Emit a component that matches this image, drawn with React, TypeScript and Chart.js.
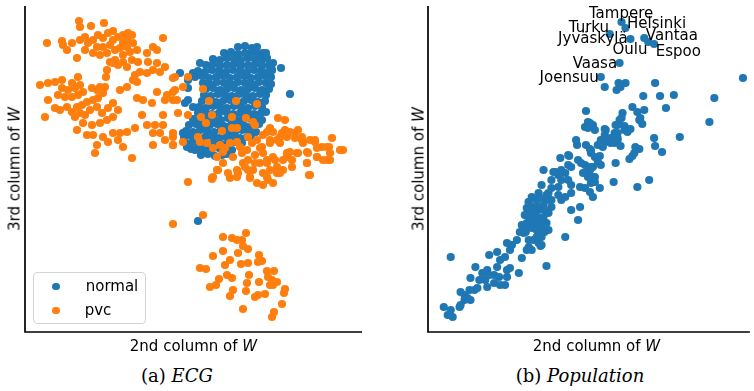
import React, { useEffect, useRef } from "react";
import { Chart, registerables } from "chart.js";

Chart.register(...registerables);

// ---------- (a) ECG : 2nd vs 3rd column of W ----------
const ecgNormal: [number, number][] = [
  [176,177],[183,178],[190,176],[197,177],[202,178],
  [166,183],[173,184],[180,182],[187,183],[194,184],[201,183],[207,182],
  [161,189],[168,190],[175,188],[182,189],[189,190],[196,188],[203,189],[210,190],[217,189],
  [159,195],[166,196],[173,194],[180,195],[187,196],[194,194],[201,195],[208,196],[215,194],[222,195],[226,196],
  [161,201],[168,200],[175,202],[182,201],[189,200],[196,202],[203,201],[210,200],[217,202],[224,201],[231,200],
  [164,207],[171,208],[178,206],[185,207],[192,208],[199,206],[206,207],[213,208],[220,206],[227,207],[234,208],
  [168,213],[175,212],[182,214],[189,213],[196,212],[203,214],[210,213],[217,212],[224,214],[231,213],[237,212],
  [173,219],[180,220],[187,218],[194,219],[201,220],[208,218],[215,219],[222,220],[229,218],[236,219],[241,220],
  [174,225],[181,224],[188,226],[195,225],[202,224],[209,226],[216,225],[223,224],[230,226],[237,225],
  [177,231],[184,232],[191,230],[198,231],[205,232],[212,230],[219,231],[226,232],[233,230],[240,231],
  [179,237],[186,236],[193,238],[200,237],[207,236],[214,238],[221,237],[228,236],[235,238],[241,237],
  [181,243],[188,244],[195,242],[202,243],[209,244],[216,242],[223,243],[230,244],[237,242],[244,243],
  [178,249],[185,248],[192,250],[199,249],[206,248],[213,250],[220,249],[227,248],[234,250],[241,249],[246,248],
  [170,255],[177,256],[184,254],[191,255],[198,256],[205,254],[212,255],[219,256],[226,254],[233,255],[240,256],[246,255],
  [173,261],[180,260],[187,262],[194,261],[201,260],[208,262],[215,261],[222,260],[229,262],[236,261],[243,260],[247,262],
  [181,267],[188,268],[195,266],[202,267],[209,268],[216,266],[223,267],[230,268],[237,266],[244,267],
  [188,273],[195,272],[202,274],[209,273],[216,272],[223,274],[230,273],[237,272],[242,274],
  [199,279],[206,280],[213,278],[220,279],[227,280],[234,278],[238,279],
  [213,285],[220,286],[227,284],[232,285],
  [175,269],[241,279],[248,269],[256,264],[247,262],[155,259],[163,244],[265,238],[160,229],
  [173,111],[163,252],[168,225],[158,199],[172,199],[162,185],[170,182],[168,259],[163,232],
];

const ecgPvc: [number, number][] = [
  [54,311],[55,305],[66,306],[79,309],[22,289],[37,291],[38,287],[42,282],[52,274],[55,292],[60,295],[63,289],
  [68,292],[73,297],[78,294],[83,299],[88,301],[93,295],[98,297],[103,299],[107,297],[102,292],[98,289],[88,292],
  [85,287],[78,285],[72,285],[68,279],[75,277],[82,279],[90,282],[95,284],[102,285],[108,289],[112,282],[105,280],
  [98,277],[90,272],[88,269],[93,267],[98,270],[102,265],[107,272],[113,270],[122,279],[128,285],[132,282],[138,294],
  [123,270],[132,269],[140,265],[135,260],[128,262],[122,259],[115,260],[110,257],[108,252],[112,250],[82,262],[81,255],
  [85,270],[47,289],[60,282],
  [15,247],[23,249],[30,250],[37,252],[47,249],[53,255],[55,247],[50,244],[43,242],[37,244],[33,237],[40,235],
  [47,235],[53,237],[58,240],[67,244],[72,242],[75,245],[80,245],[78,239],[73,234],[68,232],[62,230],[57,227],
  [52,225],[23,232],[20,215],[30,224],[35,222],[42,225],[47,220],[50,215],[55,219],[60,217],[65,222],[72,225],
  [77,219],[83,224],[88,229],[93,222],[88,215],[82,212],[75,209],[67,207],[58,209],[52,202],[62,197],[68,197],
  [72,187],[70,179],[78,195],[83,190],[88,199],[95,199],[93,192],[98,185],[107,174],[102,200],[110,204],[117,217],
  [122,207],[128,199],[130,207],[138,207],[138,217],[135,199],[140,192],[148,195],[148,187],[128,187],[102,245],[95,242],
  [112,234],[118,232],[127,229],[132,240],[140,232],[142,237],[148,232],[150,242],[148,254],[153,219],
  [150,255],[163,255],[158,245],[148,240],[152,232],[178,243],[184,231],[211,231],[232,228],[163,217],[176,215],[187,217],
  [207,215],[221,214],[181,209],[228,210],[207,204],[212,204],[197,201],[230,207],[253,214],[260,212],[245,204],[248,200],
  [148,199],[158,190],[173,195],[175,190],
  [182,189],[188,184],[195,187],[200,184],[205,189],[212,190],[215,185],[223,195],[227,189],[232,192],[238,197],[242,200],
  [237,185],[245,189],[252,192],[257,199],[262,195],[265,200],[255,189],
  [273,202],[277,195],[270,194],[278,189],[285,192],[290,190],[292,184],[297,185],[302,185],[307,194],[304,185],[318,182],
  [315,182],[305,172],[298,172],[292,175],[283,179],[282,169],[285,157],[272,179],[265,180],[262,175],[258,172],
  [192,175],[198,169],[208,175],[217,179],[223,172],[230,177],[235,169],[242,172],[248,175],[252,165],[245,162],[238,159],
  [228,162],[220,165],[212,162],[203,159],[193,162],[188,155],[212,155],[225,155],[242,155],[255,159],[267,165],
  [148,187],[163,150],[187,154],[192,162],[205,154],[213,159],[218,169],[223,162],[225,154],[232,149],[238,147],[243,152],
  [248,149],[252,159],[258,162],[262,179],[267,172],[273,179],[282,180],[282,169],[292,175],[302,172],[305,179],[290,192],
  [198,180],[222,182],[235,184],[245,192],[255,195],[260,202],[270,199],[277,192],[230,169],[242,169],[250,172],[238,179],
  [187,153],[284,157],[148,108],[178,117],
  [198,95],[207,94],[212,92],[217,92],[221,99],[218,86],[223,83],[198,81],[188,76],[213,79],[205,72],[200,67],
  [216,68],[223,69],[234,77],[233,70],[237,71],[175,64],[181,63],[202,57],[207,54],[224,57],[242,61],[249,61],
  [243,55],[247,52],[252,50],[248,47],[245,47],[234,50],[222,49],[194,53],[191,47],[185,45],[208,42],[205,36],
  [221,41],[260,43],[259,39],[230,35],[233,37],[240,38],[218,23],[257,28],[249,20],[247,15],
];

// ---------- (b) Population ----------
const popPoints: [number, number][] = [
  [196,310],[200,304],[184,298],[205,293],[219,294],[223,290],[229,288],[194,269],[175,255],
  [319,254],[193,249],[200,249],[195,245],[191,242],[179,245],[230,249],[218,236],[235,236],[249,237],[290,234],
  [160,221],[207,225],[212,220],[219,222],[197,219],[196,214],[241,224],[285,210],
  [162,210],[167,207],[159,205],[179,203],[192,207],[199,206],[205,203],[214,212],[217,208],[255,195],
  [194,212],[190,207],[199,202],[189,199],[192,199],[202,200],[215,214],[164,209],[169,202],[162,204],
  [180,202],[179,197],[175,192],[172,187],[180,190],[185,194],[185,189],[192,194],[189,189],[195,186],[192,192],[177,185],
  [150,192],[151,187],[160,187],[164,183],[165,179],[169,175],[172,170],[165,182],[174,176],[175,167],[167,165],[164,162],
  [169,155],[165,149],
  [229,194],[230,186],[237,180],[210,185],[214,183],[207,176],[204,173],[209,179],[190,169],[224,152],[212,145],[188,150],
  [174,144],[167,135],
  [143,176],[134,174],[152,172],[155,169],[159,167],[164,165],[160,160],[157,159],[162,155],[167,155],[169,150],
  [117,162],[129,160],[135,162],[142,167],[145,165],[139,159],[132,157],[125,152],[135,152],[142,152],[145,147],[132,145],
  [125,144],[115,147],[127,160],[142,177],
  [154,145],[159,144],[164,140],[145,139],[139,135],[132,137],[122,139],[112,139],[105,135],[110,132],[102,130],[119,132],
  [125,132],[135,132],
  [145,122],[154,125],[152,112],[100,124],[105,122],[112,125],[125,125],[122,119],[109,117],[99,117],[107,112],[115,114],
  [102,107],[95,107],[109,105],[115,104],[122,102],[99,100],[112,97],[139,95],
  [23,75],[120,66],
  [16,25],[23,22],[20,17],[25,15],[32,25],[33,27],[33,40],[37,37],[40,34],[37,32],[43,32],[42,42],[47,42],[50,44],
  [43,54],[48,65],[52,52],[55,59],[60,62],[62,57],[58,52],[60,45],[67,49],[72,55],[73,47],[78,47],[67,57],[70,65],
  [62,77],[70,80],[73,72],[80,62],[83,64],[80,55],[92,59],[78,75],[83,82],[85,87],[90,92],[80,89],[95,74],[100,82],
  [105,82],[102,92],[97,99],[107,92],[112,89],[115,87],[102,85],[114,86],
  [100,105],[105,104],[110,102],[93,100],[100,109],[103,115],[110,112],[115,109],[117,115],[112,122],[107,117],[98,117],
  [103,124],[107,125],[117,127],[113,134],[120,137],[123,132],[118,122],[120,109],[118,100],[115,95],[110,95],[102,130],
];

const cityNames = ["Tampere", "Helsinki", "Turku", "Vantaa", "Jyväskylä", "Oulu", "Espoo", "Vaasa", "Joensuu"];
const cityLabelX = [195.5, 231.5, 163, 247, 167, 204.5, 253.5, 169, 143];
const cityLabelY = [314, 304, 300, 292, 289, 278, 276, 264, 250];

const BLUE = "#1f77b4";
const ORANGE = "#ff7f0e";

const spinePlugin = {
  id: "spines",
  afterDraw(chart: any) {
    const { ctx, chartArea } = chart;
    ctx.save();
    ctx.strokeStyle = "#000";
    ctx.lineWidth = 1.7;
    ctx.beginPath();
    ctx.moveTo(chartArea.left, chartArea.top);
    ctx.lineTo(chartArea.left, chartArea.bottom);
    ctx.lineTo(chartArea.right, chartArea.bottom);
    ctx.stroke();
    ctx.restore();
  },
};

const cityLabelPlugin = {
  id: "cityLabels",
  afterDatasetsDraw(chart: any) {
    const { ctx, scales } = chart;
    ctx.save();
    ctx.font = '15px "DejaVu Sans"';
    ctx.fillStyle = "#000";
    ctx.textAlign = "center";
    ctx.textBaseline = "alphabetic";
    cityNames.forEach((name, i) => {
      ctx.fillText(name, scales.x.getPixelForValue(cityLabelX[i]), scales.y.getPixelForValue(cityLabelY[i]));
    });
    ctx.restore();
  },
};

function makeOptions(xMax: number, yMax: number, padding: any) {
  return {
    animation: false as const,
    responsive: false,
    events: [] as any[],
    layout: { padding },
    plugins: { legend: { display: false }, tooltip: { enabled: false } },
    scales: {
      x: { type: "linear" as const, display: false, min: 0, max: xMax },
      y: { type: "linear" as const, display: false, min: 0, max: yMax },
    },
    elements: { point: { radius: 4.1, hoverRadius: 4.1, borderWidth: 0 } },
  };
}

const toXY = (arr: [number, number][]) => arr.map(([x, y]) => ({ x, y }));

export default function App() {
  const leftRef = useRef<HTMLCanvasElement>(null);
  const rightRef = useRef<HTMLCanvasElement>(null);

  useEffect(() => {
    const left = new Chart(leftRef.current!, {
      type: "scatter",
      data: {
        datasets: [
          { label: "pvc", data: toXY(ecgPvc), backgroundColor: ORANGE, borderColor: ORANGE, order: 0 },
          { label: "normal", data: toXY(ecgNormal), backgroundColor: BLUE, borderColor: BLUE, order: 1 },
        ],
      },
      options: makeOptions(337, 326, { left: 10, top: 6, right: 10, bottom: 10 }) as any,
      plugins: [spinePlugin],
    });
    const right = new Chart(rightRef.current!, {
      type: "scatter",
      data: {
        datasets: [{ label: "municipalities", data: toXY(popPoints), backgroundColor: BLUE, borderColor: BLUE }],
      },
      options: makeOptions(326, 326, { left: 10, top: 6, right: 0, bottom: 10 }) as any,
      plugins: [spinePlugin, cityLabelPlugin],
    });
    return () => {
      left.destroy();
      right.destroy();
    };
  }, []);

  const sans = '"DejaVu Sans", sans-serif';
  const serif = '"DejaVu Serif", serif';
  const label = (cx: number, baseline: number, content: React.ReactNode) => (
    <div
      style={{
        position: "absolute", left: cx, top: baseline - 12.7, transform: "translateX(-50%)",
        font: `15px ${sans}`, lineHeight: "15px", whiteSpace: "nowrap", color: "#000",
      }}
    >
      {content}
    </div>
  );
  const ylabel = (cx: number, cy: number) => (
    <div
      style={{
        position: "absolute", left: cx, top: cy, transform: "translate(-50%,-50%) rotate(-90deg)",
        font: `15px ${sans}`, lineHeight: "15px", whiteSpace: "nowrap", color: "#000",
      }}
    >
      3rd column of <span style={{ fontStyle: "italic" }}>W</span>
    </div>
  );
  const caption = (cx: number, content: React.ReactNode) => (
    <div
      style={{
        position: "absolute", left: cx, top: 366.8, transform: "translateX(-50%)",
        font: `18px ${serif}`, lineHeight: "18px", whiteSpace: "nowrap", color: "#000",
      }}
    >
      {content}
    </div>
  );
  const dot = (cx: number, cy: number, color: string) => (
    <div style={{ position: "absolute", left: cx - 3.8, top: cy - 3.8, width: 7.6, height: 7.6, borderRadius: "50%", background: color }} />
  );

  return (
    <div style={{ position: "absolute", left: 0, top: 0, width: 754, height: 391, background: "#fff", overflow: "hidden" }}>
      <canvas ref={leftRef} width={357} height={342} style={{ position: "absolute", left: 15, top: 0 }} />
      <canvas ref={rightRef} width={336} height={342} style={{ position: "absolute", left: 418, top: 0 }} />

      {label(193.5, 352, <>2nd column of <span style={{ fontStyle: "italic" }}>W</span></>)}
      {label(596.5, 352, <>2nd column of <span style={{ fontStyle: "italic" }}>W</span></>)}
      {ylabel(14.5, 169)}
      {ylabel(419, 169)}
      {caption(177, <>(a) <span style={{ fontStyle: "italic" }}>ECG</span></>)}
      {caption(580, <>(b) <span style={{ fontStyle: "italic" }}>Population</span></>)}

      <div
        style={{
          position: "absolute", left: 33, top: 272, width: 113, height: 52, boxSizing: "border-box",
          border: "1px solid #d3d3d3", borderRadius: 4, background: "rgba(255,255,255,0.8)",
        }}
      />
      {dot(56, 286.7, BLUE)}
      {dot(56, 310.3, ORANGE)}
      {label(85 + 27, 291.7, "normal")}
      {label(85 + 13, 315.3, "pvc")}
    </div>
  );
}
